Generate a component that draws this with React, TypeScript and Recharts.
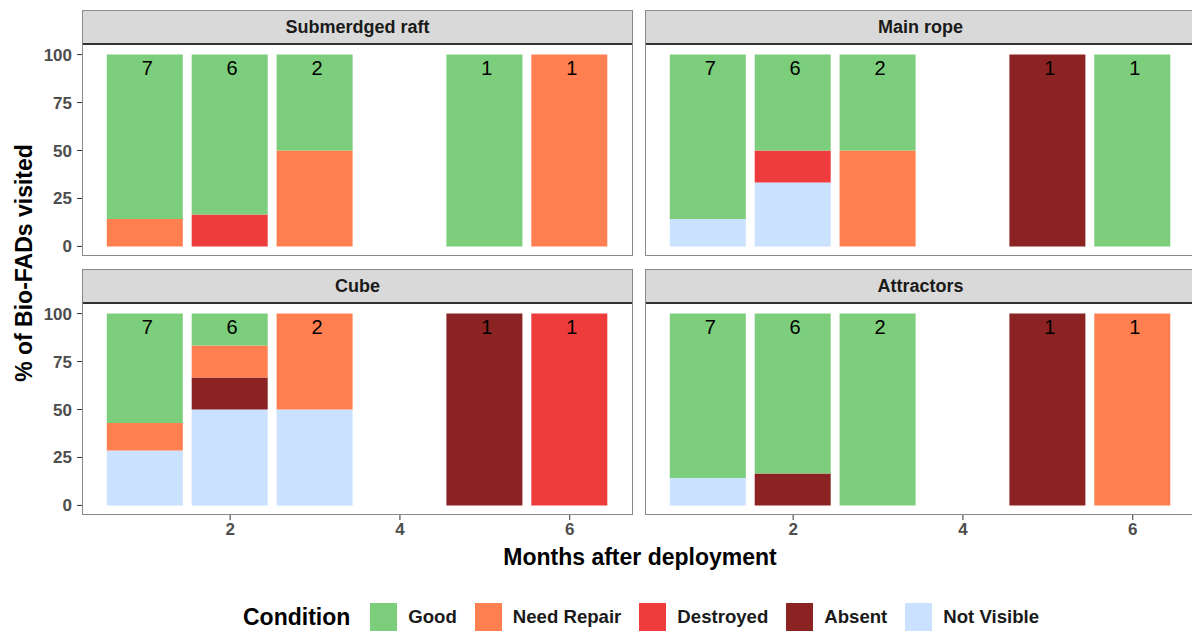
import React from "react";
import { ComposedChart, Bar, Scatter, XAxis, YAxis } from "recharts";

const FONT = "'Liberation Sans', Arial, sans-serif";

const months = [1, 2, 3, 5, 6];
const counts = [7, 6, 2, 1, 1];
const xTicks = [2, 4, 6];
const yTicks = [0, 25, 50, 75, 100];

const conditions = ["Good", "Need Repair", "Destroyed", "Absent", "Not Visible"];
const conditionColors = ["#7ccd7c", "#ff7f50", "#ee3b3b", "#8b2323", "#cae1ff"];

// % per month (1,2,3,5,6) for each condition, one set per panel
const raftGood = [85.7, 83.3, 50, 100, 0];
const raftRepair = [14.3, 0, 50, 0, 100];
const raftDestroyed = [0, 16.7, 0, 0, 0];
const raftAbsent = [0, 0, 0, 0, 0];
const raftHidden = [0, 0, 0, 0, 0];

const ropeGood = [85.7, 50, 50, 0, 100];
const ropeRepair = [0, 0, 50, 0, 0];
const ropeDestroyed = [0, 16.7, 0, 0, 0];
const ropeAbsent = [0, 0, 0, 100, 0];
const ropeHidden = [14.3, 33.3, 0, 0, 0];

const cubeGood = [57.1, 16.7, 0, 0, 0];
const cubeRepair = [14.3, 16.7, 50, 0, 0];
const cubeDestroyed = [0, 0, 0, 0, 100];
const cubeAbsent = [0, 16.7, 0, 100, 0];
const cubeHidden = [28.6, 50, 50, 0, 0];

const attrGood = [85.7, 83.3, 100, 0, 0];
const attrRepair = [0, 0, 0, 0, 100];
const attrDestroyed = [0, 0, 0, 0, 0];
const attrAbsent = [0, 16.7, 0, 100, 0];
const attrHidden = [14.3, 0, 0, 0, 0];

const panelTitles = ["Submerdged raft", "Main rope", "Cube", "Attractors"];
const panelValues = [
  [raftGood, raftRepair, raftDestroyed, raftAbsent, raftHidden],
  [ropeGood, ropeRepair, ropeDestroyed, ropeAbsent, ropeHidden],
  [cubeGood, cubeRepair, cubeDestroyed, cubeAbsent, cubeHidden],
  [attrGood, attrRepair, attrDestroyed, attrAbsent, attrHidden],
];

const buildRows = (values: number[][]) =>
  months.map((m, i) => {
    const row: Record<string, number> = { month: m, n: counts[i], total: 100 };
    conditions.forEach((c, k) => {
      row[c] = values[k][i];
    });
    return row;
  });

const PLOT_W = 551;
const PLOT_H = 211;
const Y_AXIS_W = 82;
const X_AXIS_H = 40;
const X_DOMAIN: [number, number] = [0.255, 6.745];
const BAR_SIZE = Math.round((0.9 * PLOT_W) / (X_DOMAIN[1] - X_DOMAIN[0]));

const tickStyle = { fontSize: 17, fontWeight: "bold", fill: "#4d4d4d", fontFamily: FONT };

const CountLabel = (props: any) => {
  const { cx, cy, payload } = props;
  if (cx == null || cy == null) return null;
  return (
    <text x={cx + 2} y={cy + 20} textAnchor="middle" fontSize={20} fill="#000" fontFamily={FONT}>
      {payload.n}
    </text>
  );
};

function Panel({ index, left, top }: { index: number; left: number; top: number }) {
  const showY = index % 2 === 0;
  const showX = index >= 2;
  const data = buildRows(panelValues[index]);
  const width = PLOT_W + (showY ? Y_AXIS_W : 0);
  const height = PLOT_H + (showX ? X_AXIS_H : 0);
  const plotLeft = left + (showY ? Y_AXIS_W : 0);
  const stripTop = top - 35;
  const stackOrder = [...conditions].reverse();
  return (
    <>
      <div
        style={{
          position: "absolute",
          left: plotLeft,
          top: stripTop,
          width: PLOT_W - 2,
          height: 32,
          background: "#d9d9d9",
          border: "1px solid #8a8a8a",
          borderBottom: "2px solid #333",
          fontFamily: FONT,
          fontWeight: "bold",
          fontSize: 18,
          color: "#1a1a1a",
          display: "flex",
          alignItems: "center",
          justifyContent: "center",
          boxSizing: "content-box",
        }}
      >
        {panelTitles[index]}
      </div>
      <div style={{ position: "absolute", left, top }}>
        <ComposedChart
          width={width}
          height={height}
          data={data}
          margin={{ top: 0, right: 0, bottom: 0, left: 0 }}
          style={{ overflow: "visible" }}
        >
          <XAxis
            dataKey="month"
            type="number"
            domain={X_DOMAIN}
            ticks={xTicks}
            interval={0}
            hide={!showX}
            height={X_AXIS_H}
            axisLine={false}
            tickLine={{ stroke: "#333" }}
            tickSize={5}
            tickMargin={3}
            tick={tickStyle}
            allowDataOverflow
          />
          <YAxis
            domain={[-5, 105]}
            ticks={yTicks}
            interval={0}
            hide={!showY}
            width={Y_AXIS_W}
            axisLine={false}
            tickLine={{ stroke: "#333" }}
            tickSize={5}
            tickMargin={5}
            tick={tickStyle}
            allowDataOverflow
          />
          {stackOrder.map((c) => (
            <Bar
              key={c}
              dataKey={c}
              stackId="s"
              barSize={BAR_SIZE}
              fill={conditionColors[conditions.indexOf(c)]}
              isAnimationActive={false}
            />
          ))}
          <Scatter dataKey="total" shape={CountLabel} isAnimationActive={false} />
        </ComposedChart>
      </div>
      <div
        style={{
          position: "absolute",
          left: plotLeft,
          top: top - 1,
          width: PLOT_W - 2,
          height: PLOT_H,
          border: "1px solid #8a8a8a",
          borderTop: "none",
          pointerEvents: "none",
          boxSizing: "content-box",
        }}
      />
    </>
  );
}

export default function App() {
  return (
    <div
      style={{
        position: "absolute",
        left: 0,
        top: 0,
        width: 1192,
        height: 631,
        overflow: "hidden",
        background: "#fff",
        fontFamily: FONT,
      }}
    >
      <Panel index={0} left={0} top={45} />
      <Panel index={1} left={645} top={45} />
      <Panel index={2} left={0} top={304} />
      <Panel index={3} left={645} top={304} />
      <div
        style={{
          position: "absolute",
          left: 24,
          top: 263,
          transform: "translate(-50%, -50%) rotate(-90deg)",
          whiteSpace: "nowrap",
          fontWeight: "bold",
          fontSize: 23,
          color: "#000",
        }}
      >
        % of Bio-FADs visited
      </div>
      <div
        style={{
          position: "absolute",
          left: 640,
          top: 557,
          transform: "translate(-50%, -50%)",
          whiteSpace: "nowrap",
          fontWeight: "bold",
          fontSize: 23,
          color: "#000",
        }}
      >
        Months after deployment
      </div>
      <div
        style={{
          position: "absolute",
          left: 243,
          top: 603,
          height: 28,
          display: "flex",
          alignItems: "center",
          whiteSpace: "nowrap",
        }}
      >
        <span style={{ fontWeight: "bold", fontSize: 23, marginRight: 20 }}>Condition</span>
        {conditions.map((c, i) => (
          <span key={c} style={{ display: "flex", alignItems: "center", marginRight: 18 }}>
            <span style={{ display: "inline-block", width: 27, height: 28, background: conditionColors[i] }} />
            <span style={{ fontWeight: "bold", fontSize: 18.6, marginLeft: 11, color: "#1a1a1a" }}>{c}</span>
          </span>
        ))}
      </div>
    </div>
  );
}
